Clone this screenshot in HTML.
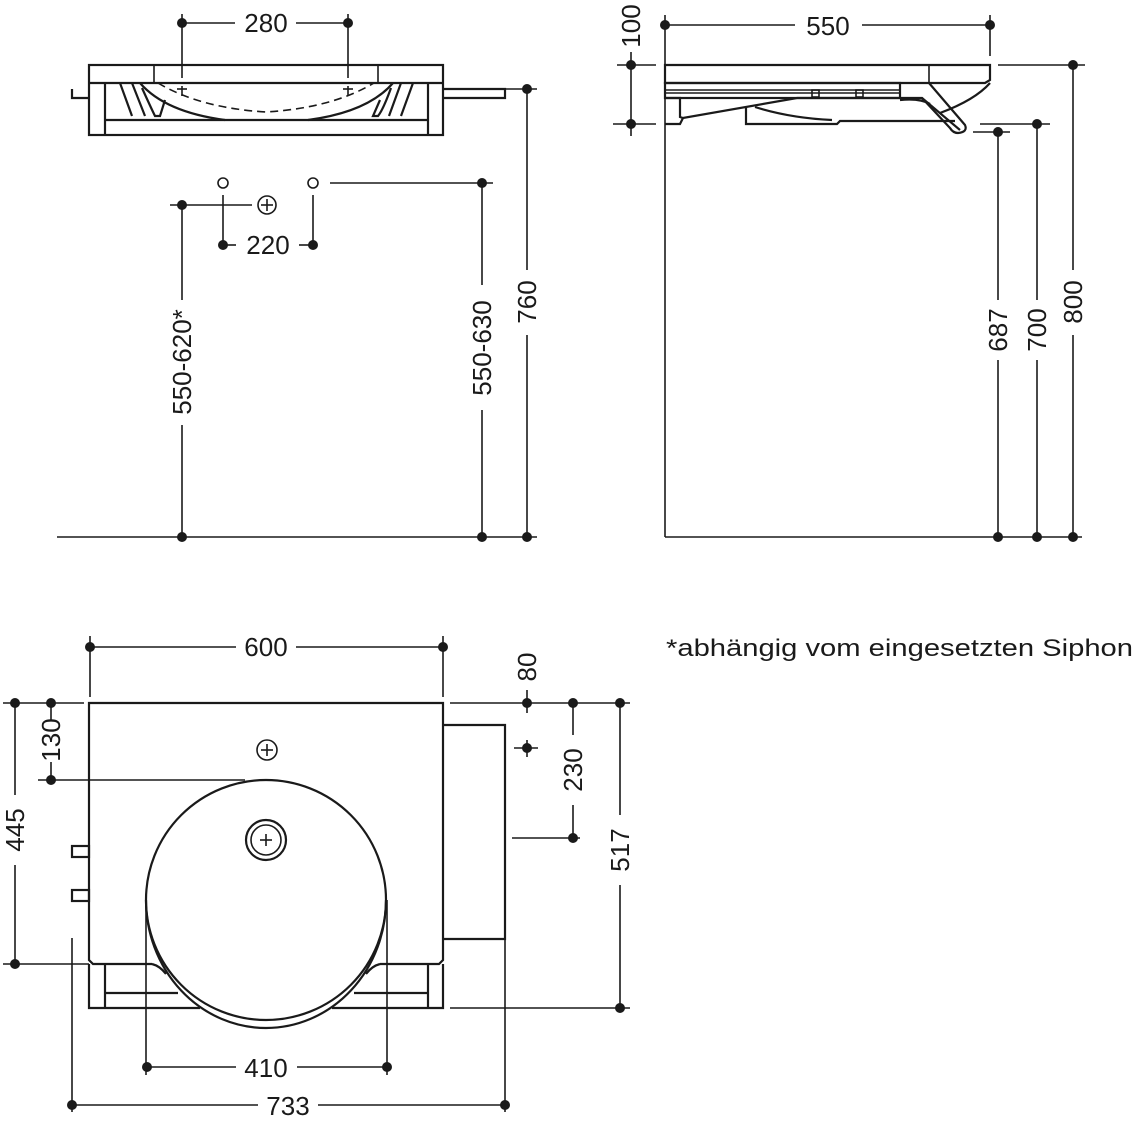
<!DOCTYPE html>
<html><head><meta charset="utf-8"><style>
html,body{margin:0;padding:0;background:#fff;}
svg{display:block;}
text{font-family:"Liberation Sans",sans-serif;font-size:26px;fill:#1a1a1a;}
</style></head><body>
<svg width="1135" height="1123" viewBox="0 0 1135 1123" xmlns="http://www.w3.org/2000/svg">
<defs>
<style>
.l{stroke:#1a1a1a;stroke-width:1.6;fill:none;}
.t{stroke:#1a1a1a;stroke-width:2.2;fill:none;}
.d{fill:#1a1a1a;}
</style>
</defs>
<rect width="1135" height="1123" fill="#fff"/>

<!-- ===== TOP-LEFT FRONT VIEW ===== -->
<line class="l" x1="182" y1="14" x2="182" y2="78"/>
<line class="l" x1="348" y1="14" x2="348" y2="78"/>
<line class="l" x1="182" y1="23" x2="235" y2="23"/>
<line class="l" x1="296" y1="23" x2="348" y2="23"/>
<circle class="d" cx="182" cy="23" r="5"/><circle class="d" cx="348" cy="23" r="5"/>
<text x="266" y="32" text-anchor="middle">280</text>

<rect class="t" x="89" y="65" width="354" height="70"/>
<line class="t" x1="89" y1="83" x2="443" y2="83"/>
<line class="l" x1="154" y1="65" x2="154" y2="83"/>
<line class="l" x1="378" y1="65" x2="378" y2="83"/>
<line class="t" x1="105" y1="83" x2="105" y2="135"/>
<line class="t" x1="428" y1="83" x2="428" y2="135"/>
<line class="t" x1="105" y1="120" x2="428" y2="120"/>
<path class="t" d="M140 83 Q165 112 225 120 M308 120 Q368 112 393 83"/>
<path class="l" stroke-dasharray="8,5" d="M158 83 Q200 108 266 112 Q332 108 374 83"/>
<path class="t" d="M120 83 L132 116 M132 83 L145 116 M142 88 Q152 110 155 116 L160 116 L165 100 M380 100 L373 116 L378 116 Q383 110 391 88 M401 83 L389 116 M413 83 L401 116"/>
<line class="l" x1="182" y1="86" x2="182" y2="96"/><line class="l" x1="177" y1="89" x2="187" y2="89"/>
<line class="l" x1="348" y1="86" x2="348" y2="96"/><line class="l" x1="343" y1="89" x2="353" y2="89"/>
<path class="t" d="M72 89 L72 98 L89 98"/>
<path class="t" d="M443 89 L505 89 L505 98 L443 98"/>

<line class="l" x1="443" y1="89" x2="537" y2="89"/>
<line class="l" x1="527" y1="89" x2="527" y2="270"/>
<line class="l" x1="527" y1="335" x2="527" y2="537"/>
<circle class="d" cx="527" cy="89" r="5"/><circle class="d" cx="527" cy="537" r="5"/>
<text transform="translate(536,302) rotate(-90)" text-anchor="middle">760</text>

<line class="l" x1="330" y1="183" x2="493" y2="183"/>
<line class="l" x1="482" y1="183" x2="482" y2="285"/>
<line class="l" x1="482" y1="410" x2="482" y2="537"/>
<circle class="d" cx="482" cy="183" r="5"/><circle class="d" cx="482" cy="537" r="5"/>
<text transform="translate(491,348) rotate(-90)" text-anchor="middle">550-630</text>

<circle class="l" cx="223" cy="183" r="5"/><circle class="l" cx="313" cy="183" r="5"/>
<line class="l" x1="223" y1="195" x2="223" y2="245"/>
<line class="l" x1="313" y1="195" x2="313" y2="245"/>
<circle class="l" cx="267" cy="205" r="9"/>
<line class="l" x1="261" y1="205" x2="273" y2="205"/><line class="l" x1="267" y1="199" x2="267" y2="211"/>
<line class="l" x1="170" y1="205" x2="252" y2="205"/>
<circle class="d" cx="182" cy="205" r="5"/>
<line class="l" x1="182" y1="205" x2="182" y2="300"/>
<line class="l" x1="182" y1="425" x2="182" y2="537"/>
<text transform="translate(191,362) rotate(-90)" text-anchor="middle">550-620*</text>
<line class="l" x1="223" y1="245" x2="236" y2="245"/><line class="l" x1="299" y1="245" x2="313" y2="245"/>
<circle class="d" cx="223" cy="245" r="5"/><circle class="d" cx="313" cy="245" r="5"/>
<text x="268" y="254" text-anchor="middle">220</text>
<line class="l" x1="57" y1="537" x2="537" y2="537"/>
<circle class="d" cx="182" cy="537" r="5"/>

<!-- ===== TOP-RIGHT SIDE VIEW ===== -->
<line class="l" x1="665" y1="15" x2="665" y2="537"/>
<line class="l" x1="990" y1="15" x2="990" y2="56"/>
<line class="l" x1="665" y1="25" x2="795" y2="25"/>
<line class="l" x1="862" y1="25" x2="990" y2="25"/>
<circle class="d" cx="665" cy="25" r="5"/><circle class="d" cx="990" cy="25" r="5"/>
<text x="828" y="35" text-anchor="middle">550</text>
<line class="l" x1="617" y1="65" x2="656" y2="65"/>
<line class="l" x1="613" y1="124" x2="656" y2="124"/>
<line class="l" x1="631" y1="52" x2="631" y2="136"/>
<circle class="d" cx="631" cy="65" r="5"/><circle class="d" cx="631" cy="124" r="5"/>
<text transform="translate(640,26) rotate(-90)" text-anchor="middle">100</text>
<path class="t" d="M665 65 L990 65 L990 80 L985 83 L665 83 Z"/>
<line class="l" x1="929" y1="65" x2="929" y2="83"/>
<rect class="t" x="665" y="83" width="235" height="15"/>
<line class="l" x1="665" y1="90" x2="900" y2="90"/><line class="l" x1="665" y1="93" x2="900" y2="93"/>
<rect class="l" x="812" y="90" width="7" height="7"/><rect class="l" x="856" y="90" width="7" height="7"/>
<path class="t" d="M665 98 L680 98 L680 117 L683 118 L797 98 L922 98 L960 130"/>
<path class="t" d="M665 124 L680 124 L683 118"/>
<path class="t" d="M929 83 L965 125 Q968 132 958 133 Q953 133 950 128 L922 98"/>
<path class="t" d="M746 107 L746 124 L837 124 L840 121 L955 121"/>
<path class="t" d="M755 107 Q790 118 832 120"/>
<path class="t" d="M900 100 Q920 98 930 104 M940 113 Q975 100 990 83"/>
<line class="l" x1="998" y1="65" x2="1085" y2="65"/>
<line class="l" x1="980" y1="124" x2="1050" y2="124"/>
<line class="l" x1="973" y1="132" x2="1010" y2="132"/>
<line class="l" x1="1073" y1="65" x2="1073" y2="270"/>
<line class="l" x1="1073" y1="335" x2="1073" y2="537"/>
<line class="l" x1="1037" y1="124" x2="1037" y2="300"/>
<line class="l" x1="1037" y1="360" x2="1037" y2="537"/>
<line class="l" x1="998" y1="132" x2="998" y2="300"/>
<line class="l" x1="998" y1="360" x2="998" y2="537"/>
<circle class="d" cx="1073" cy="65" r="5"/><circle class="d" cx="1037" cy="124" r="5"/><circle class="d" cx="998" cy="132" r="5"/>
<text transform="translate(1082,302) rotate(-90)" text-anchor="middle">800</text>
<text transform="translate(1046,330) rotate(-90)" text-anchor="middle">700</text>
<text transform="translate(1007,330) rotate(-90)" text-anchor="middle">687</text>
<line class="l" x1="665" y1="537" x2="1082" y2="537"/>
<circle class="d" cx="998" cy="537" r="5"/><circle class="d" cx="1037" cy="537" r="5"/><circle class="d" cx="1073" cy="537" r="5"/>

<!-- ===== BOTTOM PLAN VIEW ===== -->
<line class="l" x1="90" y1="636" x2="90" y2="697"/>
<line class="l" x1="443" y1="636" x2="443" y2="697"/>
<line class="l" x1="90" y1="647" x2="236" y2="647"/>
<line class="l" x1="296" y1="647" x2="443" y2="647"/>
<circle class="d" cx="90" cy="647" r="5"/><circle class="d" cx="443" cy="647" r="5"/>
<text x="266" y="656" text-anchor="middle">600</text>

<path class="t" d="M152 964 L93 964 L89 960 L89 703 L443 703 L443 960 L439 964 L380 964"/>
<path class="t" d="M152 964 Q160 966 166 974 M380 964 Q372 966 366 974"/>
<path class="t" d="M89 964 L89 1008 L200 1008 M332 1008 L443 1008 L443 964"/>
<line class="t" x1="105" y1="964" x2="105" y2="1008"/>
<line class="t" x1="428" y1="964" x2="428" y2="1008"/>
<line class="t" x1="105" y1="993" x2="178" y2="993"/><line class="t" x1="354" y1="993" x2="428" y2="993"/>
<ellipse class="t" cx="266" cy="900" rx="120" ry="120"/>
<path class="t" d="M146 900 A120 128 0 0 0 386 900"/>
<circle class="l" cx="267" cy="750" r="10"/>
<line class="l" x1="261" y1="750" x2="273" y2="750"/><line class="l" x1="267" y1="744" x2="267" y2="756"/>
<circle class="t" cx="266" cy="840" r="20"/><circle class="l" cx="266" cy="840" r="15"/>
<line class="l" x1="260" y1="840" x2="272" y2="840"/><line class="l" x1="266" y1="834" x2="266" y2="846"/>
<rect class="t" x="72" y="846" width="17" height="11"/>
<rect class="t" x="72" y="890" width="17" height="11"/>
<path class="t" d="M443 725 L505 725 L505 939 L443 939"/>

<line class="l" x1="3" y1="703" x2="84" y2="703"/>
<line class="l" x1="3" y1="964" x2="89" y2="964"/>
<line class="l" x1="38" y1="780" x2="245" y2="780"/>
<line class="l" x1="15" y1="703" x2="15" y2="795"/>
<line class="l" x1="15" y1="865" x2="15" y2="964"/>
<circle class="d" cx="15" cy="703" r="5"/><circle class="d" cx="15" cy="964" r="5"/>
<text transform="translate(24,830) rotate(-90)" text-anchor="middle">445</text>
<line class="l" x1="51" y1="703" x2="51" y2="720"/>
<line class="l" x1="51" y1="762" x2="51" y2="780"/>
<circle class="d" cx="51" cy="703" r="5"/><circle class="d" cx="51" cy="780" r="5"/>
<text transform="translate(60,740) rotate(-90)" text-anchor="middle">130</text>

<line class="l" x1="450" y1="703" x2="630" y2="703"/>
<line class="l" x1="450" y1="1008" x2="630" y2="1008"/>
<line class="l" x1="512" y1="838" x2="580" y2="838"/>
<line class="l" x1="527" y1="690" x2="527" y2="713"/>
<line class="l" x1="514" y1="748" x2="538" y2="748"/><line class="l" x1="527" y1="740" x2="527" y2="757"/>
<circle class="d" cx="527" cy="703" r="5"/><circle class="d" cx="527" cy="748" r="5"/>
<text transform="translate(536,667) rotate(-90)" text-anchor="middle">80</text>
<line class="l" x1="573" y1="703" x2="573" y2="735"/>
<line class="l" x1="573" y1="805" x2="573" y2="838"/>
<circle class="d" cx="573" cy="703" r="5"/><circle class="d" cx="573" cy="838" r="5"/>
<text transform="translate(582,770) rotate(-90)" text-anchor="middle">230</text>
<line class="l" x1="620" y1="703" x2="620" y2="815"/>
<line class="l" x1="620" y1="885" x2="620" y2="1008"/>
<circle class="d" cx="620" cy="703" r="5"/><circle class="d" cx="620" cy="1008" r="5"/>
<text transform="translate(629,850) rotate(-90)" text-anchor="middle">517</text>

<line class="l" x1="146" y1="900" x2="146" y2="1075"/>
<line class="l" x1="387" y1="900" x2="387" y2="1075"/>
<line class="l" x1="146" y1="1067" x2="236" y2="1067"/>
<line class="l" x1="297" y1="1067" x2="387" y2="1067"/>
<circle class="d" cx="147" cy="1067" r="5"/><circle class="d" cx="387" cy="1067" r="5"/>
<text x="266" y="1077" text-anchor="middle">410</text>
<line class="l" x1="72" y1="938" x2="72" y2="1112"/>
<line class="l" x1="505" y1="939" x2="505" y2="1112"/>
<line class="l" x1="72" y1="1105" x2="258" y2="1105"/>
<line class="l" x1="318" y1="1105" x2="505" y2="1105"/>
<circle class="d" cx="72" cy="1105" r="5"/><circle class="d" cx="505" cy="1105" r="5"/>
<text x="288" y="1115" text-anchor="middle">733</text>

<text x="666" y="656" style="font-size:24px" textLength="467" lengthAdjust="spacingAndGlyphs">*abhängig vom eingesetzten Siphon</text>
</svg>
</body></html>
